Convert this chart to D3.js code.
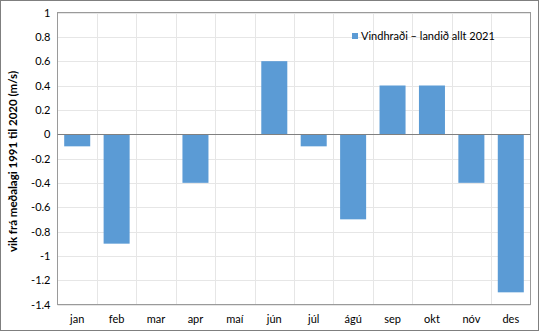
<!DOCTYPE html>
<html>
<head>
<meta charset="utf-8">
<script src="https://cdn.jsdelivr.net/npm/d3@7"></script>
<style>
  html, body { margin: 0; padding: 0; background: #fff; }
  svg { display: block; font-family: Lato, "Open Sans", sans-serif; }
</style>
</head>
<body>
<svg id="chart" width="540" height="332"></svg>
<script>
// Monthly wind speed anomaly, whole country, 2021
const months = ["jan", "feb", "mar", "apr", "maí", "jún", "júl", "ágú", "sep", "okt", "nóv", "des"];
const anomalies = [-0.1, -0.9, 0, -0.4, 0, 0.6, -0.1, -0.7, 0.4, 0.4, -0.4, -1.3];
const yTicks = [1, 0.8, 0.6, 0.4, 0.2, 0, -0.2, -0.4, -0.6, -0.8, -1, -1.2, -1.4];
const seriesName = "Vindhraði – landið allt 2021";
const yTitle = "vik frá meðalagi 1991 til 2020 (m/s)";

const W = 540, H = 332;
const plot = { left: 57.5, right: 530.5, top: 12.5, bottom: 304.5 };
const barColor = "#5B9BD5";

const svg = d3.select("#chart");

// outer frame
svg.append("rect")
  .attr("x", 0.5).attr("y", 0.5)
  .attr("width", W - 2).attr("height", H - 2)
  .attr("fill", "#fff").attr("stroke", "#7f7f7f").attr("stroke-width", 1);

const x = d3.scaleBand().domain(months).range([plot.left, plot.right]).paddingInner(0.34).paddingOuter(0.17);
const xEdge = d3.scaleBand().domain(months).range([plot.left, plot.right]).padding(0);
const y = d3.scaleLinear().domain([-1.4, 1]).range([plot.bottom, plot.top]);

// horizontal gridlines
svg.append("g").selectAll("line").data(yTicks).join("line")
  .attr("x1", plot.left).attr("x2", plot.right)
  .attr("y1", d => Math.round(y(d)) + 0.5).attr("y2", d => Math.round(y(d)) + 0.5)
  .attr("stroke", "#e6e6e6");

// vertical gridlines at category boundaries
svg.append("g").selectAll("line").data(months.slice(1)).join("line")
  .attr("x1", d => Math.round(xEdge(d)) + 0.5).attr("x2", d => Math.round(xEdge(d)) + 0.5)
  .attr("y1", plot.top).attr("y2", plot.bottom)
  .attr("stroke", "#e6e6e6");

// bars
svg.append("g").selectAll("rect").data(anomalies.map((v, i) => ({ m: months[i], v })))
  .join("rect")
  .attr("x", d => x(d.m))
  .attr("width", x.bandwidth())
  .attr("y", d => y(Math.max(0, d.v)))
  .attr("height", d => Math.abs(y(d.v) - y(0)))
  .attr("fill", barColor);

// plot border
svg.append("rect")
  .attr("x", plot.left).attr("y", plot.top)
  .attr("width", plot.right - plot.left).attr("height", plot.bottom - plot.top)
  .attr("fill", "none").attr("stroke", "#9a9a9a");

// zero line
svg.append("line")
  .attr("x1", plot.left).attr("x2", plot.right)
  .attr("y1", Math.round(y(0)) + 0.5).attr("y2", Math.round(y(0)) + 0.5)
  .attr("stroke", "#808080");

// y axis
const yAxis = d3.axisLeft(y).tickValues(yTicks).tickSize(0).tickPadding(7)
  .tickFormat(d => d3.format("")(Math.round(d * 10) / 10).replace("−", "-"));
const gy = svg.append("g").attr("transform", `translate(${plot.left},0)`).call(yAxis);
gy.select(".domain").remove();
gy.selectAll("text").attr("font-size", 11).attr("fill", "#000").attr("font-family", "Lato, 'Open Sans', sans-serif");

// x axis
const xAxis = d3.axisBottom(x).tickSize(0).tickPadding(11);
const gx = svg.append("g").attr("transform", `translate(0,${plot.bottom})`).call(xAxis);
gx.select(".domain").remove();
gx.selectAll("text").attr("font-size", 11).attr("fill", "#000").attr("font-family", "Lato, 'Open Sans', sans-serif");

// y title
svg.append("text")
  .attr("transform", `translate(17,${(plot.top + plot.bottom) / 2 + 3}) rotate(-90)`)
  .attr("text-anchor", "middle")
  .attr("font-size", 11.5).attr("font-weight", "bold")
  .text(yTitle);

// legend
const lg = svg.append("g").attr("transform", "translate(352,33)");
lg.append("rect").attr("width", 6).attr("height", 6).attr("fill", barColor);
lg.append("text").attr("x", 9).attr("y", 6.5).attr("font-size", 11).text(seriesName);
</script>
</body>
</html>
